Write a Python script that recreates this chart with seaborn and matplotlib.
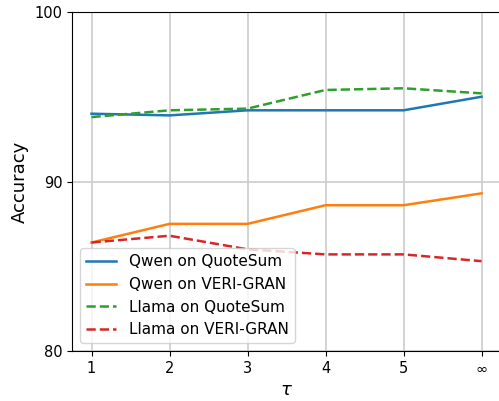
import matplotlib
matplotlib.use("Agg")
import matplotlib.pyplot as plt
import seaborn as sns
import pandas as pd

tau_labels = ["1", "2", "3", "4", "5", r"$\infty$"]
tau_pos = [1, 2, 3, 4, 5, 6]

qwen_quotesum = [94.0, 93.9, 94.2, 94.2, 94.2, 95.0]
qwen_verigran = [86.4, 87.5, 87.5, 88.6, 88.6, 89.3]
llama_quotesum = [93.8, 94.2, 94.3, 95.4, 95.5, 95.2]
llama_verigran = [86.4, 86.8, 86.0, 85.7, 85.7, 85.3]

series = {
    "Qwen on QuoteSum": qwen_quotesum,
    "Qwen on VERI-GRAN": qwen_verigran,
    "Llama on QuoteSum": llama_quotesum,
    "Llama on VERI-GRAN": llama_verigran,
}
rows = []
for name, vals in series.items():
    for x, v in zip(tau_pos, vals):
        rows.append({"tau": x, "Accuracy": v, "series": name})
df = pd.DataFrame(rows)

colors = ["#1f77b4", "#ff7f0e", "#2ca02c", "#d62728"]
dash_map = {
    "Qwen on QuoteSum": "",
    "Qwen on VERI-GRAN": "",
    "Llama on QuoteSum": (3.7, 1.6),
    "Llama on VERI-GRAN": (3.7, 1.6),
}

fig = plt.figure(figsize=(4.99, 4.01), dpi=100)
# axes run slightly past the right edge of the figure so the right spine is clipped
ax = fig.add_axes([72 / 499, 1 - 351 / 401, (501 - 72) / 499, (351 - 12) / 401])

sns.lineplot(data=df, x="tau", y="Accuracy", hue="series", style="series",
             palette=colors, dashes=dash_map, linewidth=1.8, ax=ax,
             hue_order=list(series.keys()), style_order=list(series.keys()))

ax.set_xlim(0.75, 6.25)
ax.set_ylim(80, 100)
ax.set_xticks(tau_pos)
ax.set_xticklabels(tau_labels)
ax.set_yticks([80, 90, 100])
ax.tick_params(labelsize=10.5)
ax.grid(True, color="#cccccc", linewidth=1.2)
ax.set_axisbelow(True)
ax.set_xlabel(r"$\tau$", fontsize=13)
ax.set_ylabel("Accuracy", fontsize=13)
leg = ax.legend(loc="lower left", fontsize=11, title=None)

fig.savefig("out.png", dpi=100)
